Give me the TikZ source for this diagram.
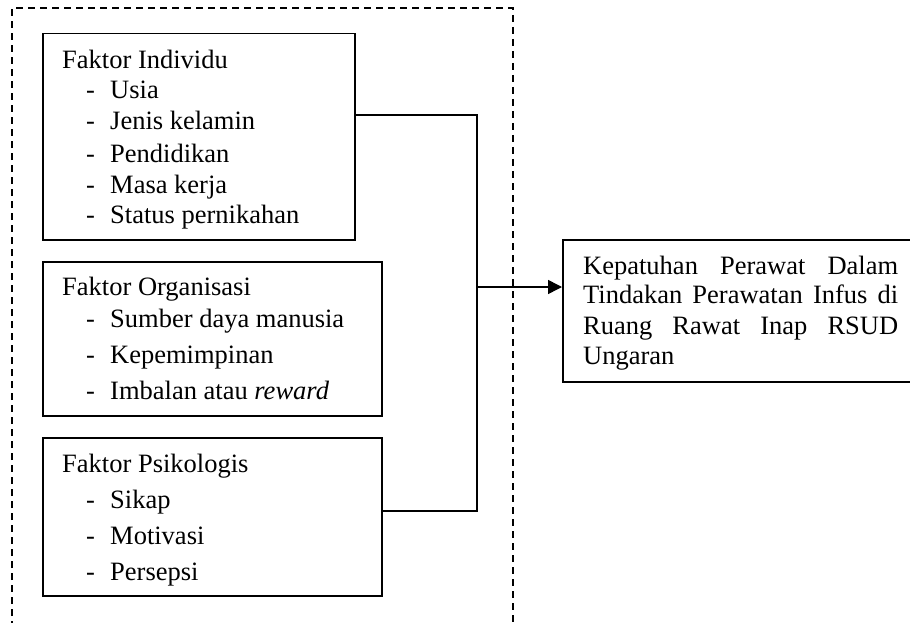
\documentclass[tikz,border=0pt]{standalone}
\usepackage{fontspec}
\setmainfont{Liberation Serif}
\usetikzlibrary{arrows.meta}
\begin{document}
\begin{tikzpicture}[x=1pt,y=-1pt,
  box/.style={draw=black, line width=1.5pt, inner sep=0pt, anchor=north west},
  txt/.style={anchor=base west, inner sep=0pt, font=\fontsize{26.5}{30}\selectfont},
  conn/.style={draw=black, line width=1.5pt},
  grp/.style={draw=black, line width=1.2pt, dash pattern=on 7pt off 5pt}]
\useasboundingbox (0,0) rectangle (910,623);
% dashed group frame (open at the bottom)
\coordinate (g1) at (12,640);
\coordinate (g2) at (12,8);
\coordinate (g3) at (513,8);
\coordinate (g4) at (513,640);
\draw[grp] (g1) -- (g2) -- (g3) -- (g4);
% boxes
\node[box, minimum width=312pt, minimum height=206pt] (ind) at (42,33) {};
\node[box, minimum width=339pt, minimum height=154pt] (org) at (42,261) {};
\node[box, minimum width=339pt, minimum height=158pt] (psi) at (42,437) {};
\node[box, minimum width=360pt, minimum height=142pt] (kep) at (562,239) {};
% texts box 1
\node[txt] (t11) at (62,69) {Faktor Individu};
\node[txt] (d12) at (86,99) {-}; \node[txt] (t12) at (110,99) {Usia};
\node[txt] (d13) at (86,130) {-}; \node[txt] (t13) at (110,130) {Jenis kelamin};
\node[txt] (d14) at (86,162) {-}; \node[txt] (t14) at (110,162) {Pendidikan};
\node[txt] (d15) at (86,193) {-}; \node[txt] (t15) at (110,193) {Masa kerja};
\node[txt] (d16) at (86,223) {-}; \node[txt] (t16) at (110,223) {Status pernikahan};
% texts box 2
\node[txt] (t21) at (62,295) {Faktor Organisasi};
\node[txt] (d22) at (86,327) {-}; \node[txt] (t22) at (110,327) {Sumber daya manusia};
\node[txt] (d23) at (86,363) {-}; \node[txt] (t23) at (110,363) {Kepemimpinan};
\node[txt] (d24) at (86,399) {-}; \node[txt] (t24) at (110,399) {Imbalan atau \textit{reward}};
% texts box 3
\node[txt] (t31) at (62,472) {Faktor Psikologis};
\node[txt] (d32) at (86,508) {-}; \node[txt] (t32) at (110,508) {Sikap};
\node[txt] (d33) at (86,544) {-}; \node[txt] (t33) at (110,544) {Motivasi};
\node[txt] (d34) at (86,580) {-}; \node[txt] (t34) at (110,580) {Persepsi};
% target text
\node[txt] (k1) at (583,274) {\makebox[315pt][s]{Kepatuhan Perawat Dalam}};
\node[txt] (k2) at (583,303) {\makebox[315pt][s]{Tindakan Perawatan Infus di}};
\node[txt] (k3) at (583,334) {\makebox[315pt][s]{Ruang Rawat Inap RSUD}};
\node[txt] (k4) at (583,364) {Ungaran};
% connectors
\coordinate (a1) at (ind.east |- 0,115);
\coordinate (a2) at (477,115);
\coordinate (b1) at (psi.east |- 0,511);
\coordinate (b2) at (477,511);
\coordinate (c1) at (477,287);
\draw[conn] (a1) -- (a2) -- (b2) -- (b1);
\draw[conn, -{Triangle[length=14pt,width=14pt]}] (c1) -- (kep.west |- c1);
\end{tikzpicture}
\end{document}
